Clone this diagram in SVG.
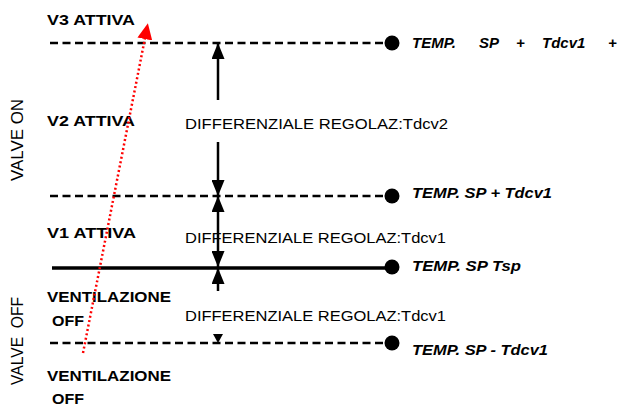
<svg xmlns="http://www.w3.org/2000/svg" width="619" height="407" viewBox="0 0 619 407">
<style>
.lbl{font-family:"Liberation Sans",Arial,sans-serif;font-weight:bold;font-size:15px;fill:#000}
.dif{font-family:"Liberation Sans",Arial,sans-serif;font-size:15.5px;fill:#000}
.tmp{font-family:"Liberation Sans",Arial,sans-serif;font-weight:bold;font-style:italic;font-size:15px;fill:#000}
.vlv{font-family:"Liberation Sans",Arial,sans-serif;font-size:16px;fill:#000}
.dash{stroke:#000;stroke-width:2.5;stroke-dasharray:8 4.5;fill:none}
.solid{stroke:#000;stroke-width:3.5;fill:none}
.arr{stroke:#000;stroke-width:2.5;fill:none}
.dot{fill:#000}
</style>
<defs>
<marker id="ah" viewBox="0 0 16 13" refX="16" refY="6.5" markerWidth="16" markerHeight="13" markerUnits="userSpaceOnUse" orient="auto-start-reverse">
<path d="M0,0 L16,6.5 L0,13 z" fill="#000"/>
</marker>
<marker id="rah" viewBox="0 0 16 15" refX="1" refY="7.5" markerWidth="16" markerHeight="15" markerUnits="userSpaceOnUse" orient="auto">
<path d="M0,0 L16,7.5 L0,15 z" fill="#ff0000"/>
</marker>
</defs>

<g id="level-v3">
<line class="dash" x1="50" y1="43" x2="386" y2="43"/>
<circle class="dot" cx="392" cy="43" r="7.5"/>
<text class="tmp" y="48"><tspan x="412">TEMP.</tspan><tspan x="479">SP</tspan><tspan x="516">+</tspan><tspan x="542">Tdcv1</tspan><tspan x="608">+</tspan></text>
</g>
<g id="level-v2">
<line class="dash" x1="50" y1="196" x2="386" y2="196"/>
<circle class="dot" cx="392" cy="196" r="7.5"/>
<text class="tmp" x="412" y="198" textLength="140" lengthAdjust="spacingAndGlyphs">TEMP. SP + Tdcv1</text>
</g>
<g id="level-sp">
<line class="solid" x1="52" y1="268" x2="392" y2="268"/>
<circle class="dot" cx="392" cy="267" r="7.5"/>
<text class="tmp" x="412" y="271" textLength="109" lengthAdjust="spacingAndGlyphs">TEMP. SP Tsp</text>
</g>
<g id="level-off">
<line class="dash" x1="50" y1="343" x2="386" y2="343"/>
<circle class="dot" cx="392" cy="343" r="7.5"/>
<text class="tmp" x="412" y="355" textLength="136" lengthAdjust="spacingAndGlyphs">TEMP. SP - Tdcv1</text>
</g>

<g id="labels-left">
<text class="lbl" x="47" y="25" textLength="88" lengthAdjust="spacingAndGlyphs">V3 ATTIVA</text>
<text class="lbl" x="47" y="126" textLength="88" lengthAdjust="spacingAndGlyphs">V2 ATTIVA</text>
<text class="lbl" x="47" y="238" textLength="89" lengthAdjust="spacingAndGlyphs">V1 ATTIVA</text>
<text class="lbl" x="47" y="302" textLength="124" lengthAdjust="spacingAndGlyphs">VENTILAZIONE</text>
<text class="lbl" x="52" y="326" textLength="32" lengthAdjust="spacingAndGlyphs">OFF</text>
<text class="lbl" x="47" y="381" textLength="124" lengthAdjust="spacingAndGlyphs">VENTILAZIONE</text>
<text class="lbl" x="52" y="404" textLength="32" lengthAdjust="spacingAndGlyphs">OFF</text>
</g>

<g id="valve-labels">
<text class="vlv" transform="translate(23,181) rotate(-90)" textLength="82" lengthAdjust="spacingAndGlyphs">VALVE ON</text>
<text class="vlv" transform="translate(23,385) rotate(-90)" textLength="88" lengthAdjust="spacingAndGlyphs" xml:space="preserve">VALVE  OFF</text>
</g>

<g id="differential-labels">
<text class="dif" x="185" y="129" textLength="263" lengthAdjust="spacingAndGlyphs">DIFFERENZIALE REGOLAZ:Tdcv2</text>
<text class="dif" x="185" y="243" textLength="261" lengthAdjust="spacingAndGlyphs">DIFFERENZIALE REGOLAZ:Tdcv1</text>
<text class="dif" x="185" y="321" textLength="261" lengthAdjust="spacingAndGlyphs">DIFFERENZIALE REGOLAZ:Tdcv1</text>
</g>

<g id="connectors">
<line class="arr" x1="218" y1="100" x2="218" y2="43" marker-end="url(#ah)"/>
<line class="arr" x1="218" y1="142" x2="218" y2="196" marker-end="url(#ah)"/>
<line class="arr" x1="218" y1="196" x2="218" y2="267" marker-start="url(#ah)" marker-end="url(#ah)"/>
<line class="arr" x1="218" y1="291" x2="218" y2="268" marker-end="url(#ah)"/>
<polygon points="213,334 223,334 218,343" fill="#000"/>
<line x1="83" y1="353" x2="145" y2="38" stroke="#ff0000" stroke-width="2.5" stroke-dasharray="2 2.5" marker-end="url(#rah)"/>
</g>
</svg>
